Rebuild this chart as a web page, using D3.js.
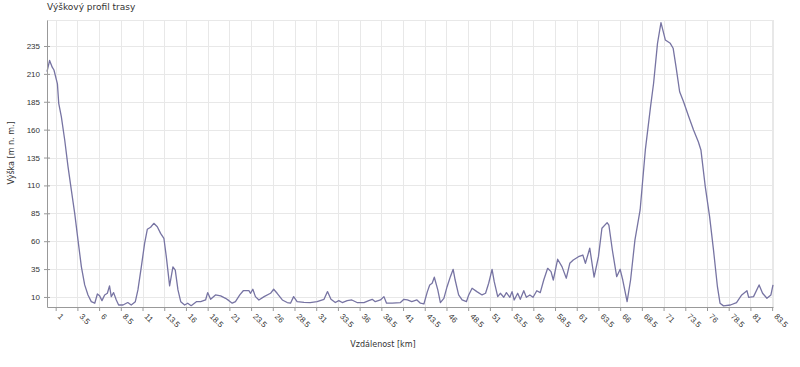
<!DOCTYPE html>
<html>
<head>
<meta charset="utf-8">
<script src="https://cdn.jsdelivr.net/npm/d3@7"></script>
<style>
  body { margin: 0; background: #fff; }
  svg { display: block; font-family: "DejaVu Sans", sans-serif; }
</style>
</head>
<body>
<svg id="chart" width="800" height="367"></svg>
<script>
// distance along the route [km]
const distances = [
  0, 0.3, 0.6, 0.8, 1.2, 1.35, 1.65, 2.04, 2.42, 2.8, 3.19, 3.57, 3.96, 4.34, 4.72, 5.1, 5.5,
  5.8, 6.06, 6.33, 6.64, 6.95, 7.2, 7.4, 7.67, 7.98, 8.25, 8.75, 9.3, 9.7, 10.17, 10.47, 10.86,
  11.24, 11.55, 11.93, 12.3, 12.7, 13.08, 13.46, 13.74, 14.12, 14.5, 14.77, 15.08, 15.4, 15.85,
  16.2, 16.6, 17.2, 17.7, 18.26, 18.5, 18.84, 19.4, 20, 20.56, 20.95, 21.33, 21.7, 22.2, 22.6,
  23.25, 23.44, 23.7, 24, 24.4, 25, 25.74, 26.1, 26.5, 27.1, 27.66, 28.04, 28.4, 28.8, 29.6,
  30.3, 31.1, 31.9, 32.3, 32.7, 33.2, 33.6, 34, 34.57, 35.1, 35.7, 36.5, 37.05, 37.45, 37.8,
  38.4, 38.8, 39.1, 39.75, 40.7, 41.1, 41.5, 42, 42.6, 43, 43.4, 43.8, 44.07, 44.35, 44.6, 45,
  45.3, 45.7, 46.07, 46.45, 46.77, 47, 47.4, 47.8, 48.3, 48.56, 48.95, 49.5, 50.1, 50.5, 50.86,
  51.25, 51.5, 51.9, 52.2, 52.6, 52.9, 53.3, 53.55, 53.8, 54.2, 54.5, 54.9, 55.2, 55.6, 55.97,
  56.4, 56.8, 57.2, 57.65, 58.04, 58.3, 58.8, 59.3, 59.8, 60.2, 60.6, 61.2, 61.7, 62, 62.5, 63,
  63.5, 63.9, 64.5, 64.7, 65.1, 65.6, 66, 66.3, 66.8, 67.2, 67.7, 68.3, 68.9, 69.5, 69.85, 70.3,
  70.7, 71.2, 71.77, 72.1, 72.46, 72.85, 73.3, 73.9, 74.45, 75, 75.3, 75.8, 76.3, 76.75, 77.2,
  77.5, 77.9, 78.7, 79.4, 80, 80.6, 80.8, 81.36, 82, 82.4, 82.9, 83.36, 83.6
];

// elevation [m n. m.]
const elevations = [
  212, 222, 216, 213.5, 201, 183.6, 171.6, 150.7, 126.8, 106, 85, 61, 37, 20.8, 11.8, 5.8, 4.4,
  12.7, 11, 6.7, 11.8, 13.3, 20, 10.3, 13.9, 7.3, 2.8, 2.8, 5, 2.8, 5.8, 16.3, 37,
  58, 70.7, 72.5, 76, 73, 67, 62.6, 46, 20, 37, 34, 16.3, 5.8, 2.8,
  4.4, 2.2, 5.8, 5.8, 7.3, 13.9, 7.9, 11.8, 10.9, 8.8, 6.7, 4.4, 5.8, 11.8, 15.6,
  15.6, 13.3, 16.9, 10.3, 7.3, 10.3, 13.3, 16.9, 13.3, 7.3, 5, 4.4, 10.3, 5.8, 5.2,
  5, 5.8, 7.9, 14.8, 7.9, 5, 6.7, 5, 6.7, 7.3, 5, 5, 6.7, 7.9, 5.8,
  7.3, 10.3, 4.4, 4.4, 5, 7.9, 7.3, 5.8, 7.3, 4.4, 3.7, 14.8, 20.8, 22.3, 27.7, 16.3,
  5, 8.8, 19.2, 28.2, 34.8, 25.2, 11.8, 7.3, 5.8, 11.8, 17.8, 14.8, 11.8, 13.3, 22.3,
  34.8, 23.7, 10.3, 13.3, 9.7, 13.9, 9.7, 14.8, 7.3, 13.3, 7.9, 15.6, 9.7, 11.8, 9.7,
  15.6, 13.9, 25.2, 35.7, 32.7, 25.2, 43.8, 37.2, 26.8, 40.2, 43.2, 46.1, 47.6, 40.2, 53.7, 27.7,
  46.1, 71.6, 76.6, 74.5, 52.1, 28.2, 34.8, 25.2, 5.8, 25.2, 61, 88, 141.8, 180.6, 201.6, 237.4,
  255.9, 240.4, 237.4, 233, 215, 194, 185, 171.6, 159.7, 149.2, 141.8, 108.9, 82, 52, 19.2,
  4.4, 2, 2.8, 5, 11.8, 15.6, 9.7, 10.3, 20.8, 13.3, 8.8, 11.8, 20.8
];

const yTicks = [10, 35, 60, 85, 110, 135, 160, 185, 210, 235];
const xTicks = [1, 3.5, 6, 8.5, 11, 13.5, 16, 18.5, 21, 23.5, 26, 28.5, 31, 33.5, 36, 38.5, 41,
  43.5, 46, 48.5, 51, 53.5, 56, 58.5, 61, 63.5, 66, 68.5, 71, 73.5, 76, 78.5, 81, 83.5];

const data = distances.map((d, i) => ({ km: d, ele: elevations[i] }));

const margin = { top: 20, right: 27, bottom: 60, left: 47 };
const width = 800, height = 367;

const x = d3.scaleLinear().domain([0, 83.6]).range([margin.left, width - margin.right]);
const y = d3.scaleLinear().domain([1, 258.3]).range([height - margin.bottom, margin.top]);

const svg = d3.select('#chart');

// grid
const grid = svg.append('g').attr('stroke', '#e8e8e8').attr('stroke-width', 1);
grid.selectAll('line.h')
  .data(yTicks.concat([258.3]))
  .join('line')
  .attr('x1', margin.left).attr('x2', width - margin.right)
  .attr('y1', d => Math.round(y(d)) + 0.5).attr('y2', d => Math.round(y(d)) + 0.5);
grid.selectAll('line.v')
  .data(xTicks.concat([83.6]))
  .join('line')
  .attr('y1', margin.top).attr('y2', height - margin.bottom)
  .attr('x1', d => Math.round(x(d)) + 0.5).attr('x2', d => Math.round(x(d)) + 0.5);

// profile line
const line = d3.line().x(d => x(d.km)).y(d => y(d.ele));
svg.append('path')
  .datum(data)
  .attr('fill', 'none')
  .attr('stroke', '#7774a3')
  .attr('stroke-width', 1.3)
  .attr('stroke-linejoin', 'round')
  .attr('d', line);

// y axis
const yAxis = svg.append('g')
  .attr('transform', `translate(${margin.left},0)`)
  .call(d3.axisLeft(y).tickValues(yTicks).tickSize(3).tickSizeOuter(0));
yAxis.select('.domain').attr('stroke', '#999');
yAxis.selectAll('.tick line').attr('stroke', '#999').attr('x2', 3).attr('x1', -3);
yAxis.selectAll('.tick text').attr('x', -7).attr('fill', '#333').attr('font-size', 8);

// x axis
const xAxis = svg.append('g')
  .attr('transform', `translate(0,${height - margin.bottom})`)
  .call(d3.axisBottom(x).tickValues(xTicks).tickSize(4).tickSizeOuter(0).tickFormat(d3.format('')));
xAxis.select('.domain').attr('stroke', '#999');
xAxis.selectAll('.tick line').attr('stroke', '#999');
xAxis.selectAll('.tick text')
  .attr('fill', '#333').attr('font-size', 8)
  .attr('text-anchor', 'start')
  .attr('y', 0).attr('dy', 0)
  .attr('transform', 'translate(1,10) rotate(45)');

// titles
svg.append('text')
  .attr('x', margin.left).attr('y', 10)
  .attr('font-size', 9).attr('fill', '#333')
  .text('Výškový profil trasy');

svg.append('text')
  .attr('transform', 'translate(14,153) rotate(-90)')
  .attr('text-anchor', 'middle')
  .attr('font-size', 8).attr('fill', '#333')
  .text('Výška [m n. m.]');

svg.append('text')
  .attr('x', 383).attr('y', 347)
  .attr('text-anchor', 'middle')
  .attr('font-size', 8).attr('fill', '#333')
  .text('Vzdálenost [km]');
</script>
</body>
</html>
